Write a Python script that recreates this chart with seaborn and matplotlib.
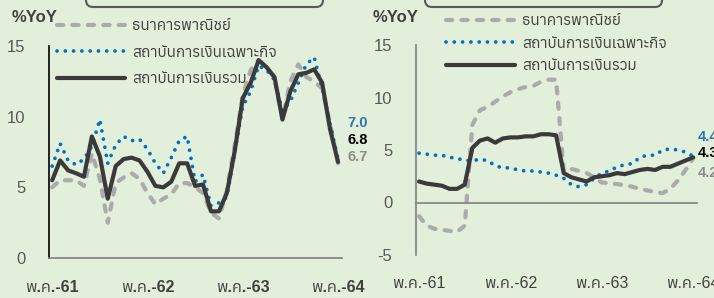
import numpy as np
import pandas as pd
import matplotlib
matplotlib.use("Agg")
import matplotlib.pyplot as plt
import seaborn as sns
from matplotlib import font_manager
from matplotlib.ft2font import FT2Font
from matplotlib.patches import FancyBboxPatch
from matplotlib.transforms import IdentityTransform
from matplotlib.ticker import FixedLocator

# ---------------- data ----------------
series_names = ["ธนาคารพาณิชย์", "สถาบันการเงินเฉพาะกิจ", "สถาบันการเงินรวม"]
tick_labels = ["พ.ค.-61", "พ.ค.-62", "พ.ค.-63", "พ.ค.-64"]
unit_label = "%YoY"

left_commercial = [5.0, 5.5, 5.5, 5.5, 5.1, 7.4, 5.6, 2.5, 5.3, 5.7, 6.0, 5.6, 4.6, 3.8, 4.2, 4.5,
                   5.3, 5.3, 5.0, 4.6, 3.2, 2.8, 4.8, 8.0, 11.5, 13.3, 14.0, 13.5, 12.7, 9.8, 12.5,
                   13.7, 12.8, 12.5, 12.0, 9.5, 6.7]
left_sfi = [6.5, 8.1, 6.9, 6.6, 7.0, 7.9, 9.8, 6.7, 8.0, 8.6, 8.3, 8.4, 7.7, 6.7, 6.0, 7.1,
            8.3, 8.6, 5.4, 5.9, 3.7, 3.9, 4.3, 7.5, 10.7, 11.8, 13.6, 13.3, 12.6, 10.4, 11.1,
            12.4, 13.7, 14.2, 12.0, 9.5, 7.0]
left_total = [5.5, 6.9, 6.2, 6.0, 5.75, 8.6, 7.2, 4.2, 6.5, 7.0, 7.1, 6.9, 6.1, 5.1, 5.0, 5.4,
              6.7, 6.7, 5.1, 5.2, 3.3, 3.3, 4.6, 7.6, 11.3, 12.4, 14.0, 13.5, 12.8, 9.8, 11.8,
              13.0, 13.1, 13.35, 12.4, 9.1, 6.8]

right_commercial = [-1.3, -2.2, -2.5, -2.6, -2.7, -2.8, -2.2, 7.4, 8.8, 9.1, 9.6, 10.1, 10.5, 10.8,
                    11.0, 11.1, 11.5, 11.7, 11.7, 3.0, 3.2, 3.0, 2.8, 2.4, 1.9, 1.85, 1.75, 1.65,
                    1.5, 1.3, 1.15, 1.0, 0.9, 1.3, 2.1, 3.1, 4.2]
right_sfi = [4.7, 4.6, 4.5, 4.5, 4.3, 4.2, 4.0, 4.0, 4.1, 4.0, 3.5, 3.3, 3.3, 3.1, 3.0, 3.0,
             2.9, 2.8, 2.6, 2.3, 1.7, 1.5, 1.7, 2.3, 2.8, 3.0, 3.4, 3.6, 3.7, 4.3, 4.5,
             4.5, 5.0, 5.1, 5.0, 4.8, 4.4]
right_total = [2.0, 1.8, 1.7, 1.6, 1.3, 1.3, 1.7, 5.2, 5.9, 6.1, 5.7, 6.1, 6.2, 6.2, 6.3, 6.3,
               6.5, 6.5, 6.4, 2.8, 2.4, 2.2, 2.0, 2.4, 2.5, 2.6, 2.8, 2.7, 2.9, 3.1, 3.2,
               3.1, 3.4, 3.4, 3.7, 4.0, 4.3]

# ---------------- fonts ----------------
def thai_families():
    fams = []
    for f in font_manager.fontManager.ttflist:
        try:
            if 0x0E01 in FT2Font(f.fname).get_charmap():
                fams.append(f.name)
        except Exception:
            pass
    return sorted(set(fams))

thai = thai_families()
pref = ["Anuphan", "IBM Plex Sans Thai", "Noto Sans Thai", "Loma", "Garuda"]
thai_pick = [p for p in pref if p in thai][:1] or thai[:1]

sns.set_style("white")
plt.rcParams["font.family"] = ["Liberation Sans"] + thai_pick + ["DejaVu Sans"]
plt.rcParams["axes.unicode_minus"] = False

BG = "#E2EFDA"
GRAY = "#ABABAB"
BLUE = "#0070C0"
DARK = "#3A3A3A"
TXT = "#404040"

W, H = 714, 298
fig = plt.figure(figsize=(W / 100, H / 100), dpi=100, facecolor=BG)

def px_axes(l, t, r, b):
    return fig.add_axes([l / W, 1 - b / H, (r - l) / W, (b - t) / H])

ax1 = px_axes(49, 46, 342, 258)
ax2 = px_axes(416, 45, 697, 255)

months = np.arange(len(left_total))

def draw_panel(ax, cb, sfi, tot):
    df = pd.DataFrame({"m": months, "cb": cb, "sfi": sfi, "tot": tot})
    sns.lineplot(data=df, x="m", y="cb", ax=ax, color=GRAY, linewidth=3)
    l = ax.lines[-1]
    l.set_dashes((1.5, 2.2))
    l.set_dash_capstyle("round")
    sns.lineplot(data=df, x="m", y="sfi", ax=ax, color=BLUE, linewidth=2.7)
    l = ax.lines[-1]
    l.set_dashes((0.01, 2.2))
    l.set_dash_capstyle("round")
    sns.lineplot(data=df, x="m", y="tot", ax=ax, color=DARK, linewidth=3)
    ax.set_facecolor(BG)
    ax.set_xlabel("")
    ax.set_ylabel("")
    ax.set_xlim(-0.4, 36.5)
    ax.spines["top"].set_visible(False)
    ax.spines["right"].set_visible(False)
    ax.spines["bottom"].set_color("#808080")
    ax.spines["bottom"].set_linewidth(1.2)
    ax.spines["left"].set_linewidth(1.2)
    ax.xaxis.set_major_locator(FixedLocator([0, 12, 24, 36]))
    ax.set_xticklabels(tick_labels)
    ax.xaxis.set_minor_locator(FixedLocator(np.arange(0, 37, 6) - 0.4))
    ax.tick_params(axis="x", which="major", length=0, labelsize=11.5, labelcolor=TXT)
    ax.tick_params(axis="x", which="minor", direction="out", length=5, width=1.2, color="#808080")
    ax.tick_params(axis="y", direction="out", length=5, width=1.2, color="#595959",
                   labelsize=12, labelcolor="#595959", pad=12)
    for t in ax.get_xticklabels():
        t.set_fontweight("bold")
    return ax.lines[:3]

h1 = draw_panel(ax1, left_commercial, left_sfi, left_total)
ax1.set_ylim(0, 15)
ax1.set_yticks([0, 5, 10, 15])
ax1.spines["left"].set_color("black")
ax1.tick_params(axis="x", which="major", pad=16)

h2 = draw_panel(ax2, right_commercial, right_sfi, right_total)
ax2.set_ylim(-5, 15)
ax2.set_yticks([-5, 0, 5, 10, 15])
ax2.spines["left"].set_color("#808080")
ax2.spines["bottom"].set_position(("data", 0))
ax2.tick_params(axis="x", which="major", pad=53)

# legends
leg1 = ax1.legend(h1, series_names, loc="upper left", bbox_to_anchor=(57 / W, 1 - 19 / H),
                  bbox_transform=fig.transFigure, frameon=False, borderpad=0, borderaxespad=0,
                  fontsize=11, handlelength=4.45, handletextpad=0.46, labelspacing=0.82,
                  labelcolor=TXT)
leg2 = ax2.legend(h2, series_names, loc="upper left", bbox_to_anchor=(446 / W, 1 - 14 / H),
                  bbox_transform=fig.transFigure, frameon=False, borderpad=0, borderaxespad=0,
                  fontsize=11, handlelength=4.5, handletextpad=0.46, labelspacing=0.56,
                  labelcolor=TXT)

# unit labels
fig.text(12 / W, 1 - 18 / H, unit_label, ha="left", va="center", fontsize=12,
         fontweight="bold", color=TXT)
fig.text(373 / W, 1 - 18 / H, unit_label, ha="left", va="center", fontsize=12,
         fontweight="bold", color=TXT)

# end-value labels
def end_labels(ax, vals, offsets):
    colors = ["#8C8C8C", "#2E75B6", "#000000"]
    for v, c, (dx, dy) in zip(vals, colors, offsets):
        ax.annotate(f"{v:.1f}", xy=(months[-1], v), xytext=(dx, dy), textcoords="offset pixels",
                    ha="left", va="center", fontsize=10.5, fontweight="bold", color=c,
                    annotation_clip=False)

end_labels(ax1, [left_commercial[-1], left_sfi[-1], left_total[-1]], [(9, 6), (9, 36), (9, 22)])
end_labels(ax2, [right_commercial[-1], right_sfi[-1], right_total[-1]], [(5, -15), (5, 19), (5, 4)])

# title boxes (cut off at top)
for x0, x1 in [(86, 323), (425, 662)]:
    box = FancyBboxPatch((x0, H - 7), x1 - x0, 30, boxstyle="round,pad=0,rounding_size=7",
                         transform=IdentityTransform(), facecolor="none", edgecolor="#595959",
                         linewidth=1.5)
    fig.add_artist(box)

fig.savefig("out.png", dpi=100, facecolor=BG)
